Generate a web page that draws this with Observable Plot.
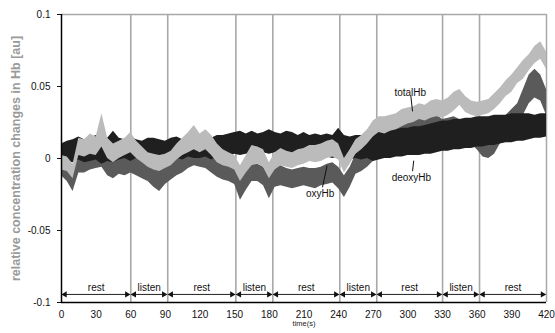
<!DOCTYPE html>
<html><head><meta charset="utf-8">
<script src="https://cdn.jsdelivr.net/npm/d3@7"></script>
<script src="https://cdn.jsdelivr.net/npm/@observablehq/plot@0.6"></script>
<style>body{margin:0;background:#fff;}</style>
</head><body><div id="chart"></div>
<script>
const times = [0,5,10,15,20,25,30,35,40,45,50,55,60,65,70,75,80,85,90,95,100,105,110,115,120,125,130,135,140,145,150,155,160,165,170,175,180,185,190,195,200,205,210,215,220,225,230,235,240,245,250,255,260,265,270,275,280,285,290,295,300,305,310,315,320,325,330,335,340,345,350,355,360,365,370,375,380,385,390,395,400,405,410,415,420];

const deoxyLo = [-0.001,-0.002,-0.003,-0.001,-0.003,-0.002,-0.001,-0.004,-0.002,-0.003,-0.001,0.000,-0.002,0.000,-0.001,-0.002,0.000,-0.001,0.000,-0.002,0.000,-0.001,0.001,0.000,0.000,0.001,-0.001,0.001,0.002,0.001,0.003,0.002,0.003,0.004,0.002,0.004,0.003,0.004,0.002,0.004,0.003,0.002,0.002,0.000,0.002,0.000,0.001,0.000,0.001,-0.002,-0.001,0.000,-0.001,0.000,-0.002,-0.001,0.000,0.000,0.001,0.001,0.002,0.002,0.002,0.003,0.003,0.004,0.005,0.005,0.006,0.006,0.007,0.007,0.008,0.008,0.009,0.009,0.010,0.011,0.011,0.012,0.012,0.013,0.014,0.014,0.015];
const deoxyHi = [0.010,0.012,0.013,0.015,0.013,0.014,0.016,0.013,0.014,0.019,0.014,0.013,0.015,0.013,0.012,0.014,0.014,0.013,0.012,0.014,0.015,0.013,0.014,0.016,0.014,0.015,0.014,0.016,0.016,0.017,0.018,0.019,0.017,0.019,0.017,0.018,0.020,0.018,0.017,0.019,0.018,0.016,0.018,0.016,0.017,0.016,0.017,0.016,0.021,0.016,0.015,0.016,0.016,0.017,0.019,0.019,0.019,0.020,0.020,0.021,0.021,0.022,0.022,0.023,0.024,0.025,0.026,0.026,0.027,0.027,0.028,0.028,0.029,0.029,0.029,0.030,0.030,0.030,0.031,0.031,0.031,0.031,0.030,0.031,0.031];

const totalLo = [-0.008,-0.009,-0.014,0.002,0.001,0.003,0.002,0.008,0.000,-0.003,0.000,0.002,0.004,0.000,-0.003,-0.006,-0.008,-0.009,-0.007,-0.005,-0.001,0.002,0.004,0.006,0.004,0.006,0.002,-0.003,-0.005,-0.006,-0.008,-0.016,-0.010,-0.005,-0.004,-0.006,-0.014,-0.008,-0.005,-0.006,-0.007,-0.005,-0.004,-0.002,-0.003,-0.002,0.000,0.001,-0.001,-0.010,-0.004,0.003,0.006,0.010,0.015,0.018,0.017,0.019,0.020,0.022,0.024,0.025,0.027,0.026,0.028,0.029,0.028,0.030,0.033,0.037,0.032,0.030,0.029,0.030,0.031,0.034,0.038,0.043,0.046,0.052,0.055,0.061,0.066,0.069,0.062];
const totalHi = [0.002,0.001,-0.004,0.014,0.013,0.017,0.015,0.031,0.014,0.010,0.012,0.014,0.018,0.012,0.008,0.004,0.003,0.002,0.003,0.005,0.010,0.014,0.018,0.023,0.017,0.020,0.016,0.010,0.006,0.004,0.002,-0.005,0.002,0.009,0.008,0.006,-0.003,0.004,0.007,0.005,0.004,0.006,0.007,0.009,0.009,0.010,0.012,0.013,0.010,0.000,0.006,0.013,0.016,0.020,0.026,0.029,0.029,0.030,0.031,0.034,0.035,0.036,0.038,0.037,0.040,0.041,0.040,0.042,0.046,0.048,0.043,0.040,0.039,0.040,0.041,0.045,0.049,0.054,0.058,0.063,0.068,0.072,0.078,0.081,0.074];

const oxyLo = [-0.012,-0.016,-0.023,-0.010,-0.010,-0.008,-0.007,-0.006,-0.012,-0.014,-0.011,-0.012,-0.010,-0.012,-0.014,-0.016,-0.020,-0.023,-0.018,-0.015,-0.012,-0.010,-0.007,-0.005,-0.006,-0.007,-0.010,-0.013,-0.015,-0.016,-0.018,-0.029,-0.022,-0.016,-0.016,-0.019,-0.028,-0.020,-0.019,-0.020,-0.021,-0.020,-0.019,-0.020,-0.021,-0.019,-0.018,-0.017,-0.021,-0.027,-0.020,-0.011,-0.009,-0.006,-0.002,0.000,0.002,0.004,0.006,0.010,0.012,0.014,0.015,0.016,0.016,0.014,0.010,0.012,0.013,0.012,0.011,0.010,0.006,0.001,0.000,0.003,0.010,0.015,0.018,0.022,0.030,0.038,0.042,0.040,0.030];
const oxyHi = [-0.002,-0.005,-0.010,0.003,0.003,0.005,0.008,0.010,0.001,-0.001,0.002,0.002,0.004,0.001,-0.002,-0.004,-0.007,-0.007,-0.006,-0.003,0.000,0.002,0.007,0.009,0.007,0.006,0.002,-0.001,-0.002,-0.003,-0.006,-0.013,-0.008,-0.004,-0.004,-0.006,-0.013,-0.006,-0.005,-0.007,-0.008,-0.007,-0.006,-0.007,-0.007,-0.006,-0.004,-0.003,-0.006,-0.012,-0.006,0.003,0.004,0.007,0.012,0.015,0.018,0.020,0.022,0.026,0.028,0.030,0.031,0.031,0.032,0.030,0.027,0.028,0.029,0.027,0.026,0.025,0.020,0.016,0.015,0.018,0.025,0.030,0.034,0.038,0.048,0.058,0.062,0.058,0.048];

const events = [60, 92, 151, 183, 241, 273, 330, 362];
const phases = ["rest","listen","rest","listen","rest","listen","rest","listen","rest"];
const xTicks = [0,30,60,90,120,150,180,210,240,270,300,330,360,390,420];
const yTicks = [-0.1,-0.05,0,0.05,0.1];
const seriesNames = ["totalHb","oxyHb","deoxyHb"];
const seriesColors = ["#bbbbbb","#5a5a5a","#1f1f1f"];

const rows = times.map((t,i)=>({t, oLo:oxyLo[i], oHi:oxyHi[i], dLo:deoxyLo[i], dHi:deoxyHi[i], tLo:totalLo[i], tHi:totalHi[i]}));
const bounds = [0, ...events, 420];
const arrowY = -0.0944;
const segs = phases.map((p,i)=>({label:p, a:bounds[i]+0.8, b:bounds[i+1]-1.2, mid:(bounds[i]+bounds[i+1])/2}));

const notes = [
  {name:"totalHb", tx:302, ty:0.0459, x1:302.5, y1:0.0435, x2:304, y2:0.0327},
  {name:"oxyHb", tx:224, ty:-0.0243, x1:226, y1:-0.0200, x2:230, y2:-0.0049},
  {name:"deoxyHb", tx:303, ty:-0.0135, x1:304, y1:-0.0088, x2:305, y2:-0.0015}
];

const chart = Plot.plot({
  width: 555, height: 333,
  marginLeft: 61, marginRight: 9, marginTop: 14, marginBottom: 31,
  style: {fontFamily: "'Liberation Sans', Arial, sans-serif", fontSize: "10px", background: "#fff", color: "#111"},
  x: {domain: [0, 420]},
  y: {domain: [-0.1, 0.1]},
  marks: [
    Plot.ruleX(events, {stroke: "#a8a8a8", strokeWidth: 1.6}),
    Plot.ruleY([0.1], {stroke: "#a8a8a8", strokeWidth: 1.5}),
    Plot.ruleX([420], {stroke: "#a8a8a8", strokeWidth: 1.5}),
    Plot.areaY(rows, {x: "t", y1: "oLo", y2: "oHi", fill: seriesColors[1]}),
    Plot.areaY(rows, {x: "t", y1: "dLo", y2: "dHi", fill: seriesColors[2]}),
    Plot.areaY(rows, {x: "t", y1: "tLo", y2: "tHi", fill: seriesColors[0]}),
    Plot.ruleX([0], {stroke: "#000", strokeWidth: 1.5}),
    Plot.ruleY([-0.1], {stroke: "#000", strokeWidth: 1.5}),
    Plot.link(segs, {x1: "a", x2: "b", y1: () => arrowY, y2: () => arrowY, stroke: "#222", strokeWidth: 1}),
    Plot.dot(segs, {x: "a", y: () => arrowY, symbol: "triangle", r: 2.3, rotate: -90, fill: "#111", stroke: "none", dx: 2.5}),
    Plot.dot(segs, {x: "b", y: () => arrowY, symbol: "triangle", r: 2.3, rotate: 90, fill: "#111", stroke: "none", dx: -2.5}),
    Plot.text(segs, {x: "mid", y: () => arrowY, text: "label", dy: -6.5, fontSize: 10, fill: "#111"}),
    Plot.link(notes, {x1: "x1", y1: "y1", x2: "x2", y2: "y2", stroke: "#111", strokeWidth: 1}),
    Plot.text(notes, {x: "tx", y: "ty", text: "name", fontSize: 10, fill: "#111"}),
    Plot.axisY({ticks: yTicks, tickFormat: d => String(d), tickSize: 4, tickPadding: 7, label: null, fontSize: 10}),
    Plot.axisX({ticks: xTicks, tickSize: 0, tickPadding: 8, label: null, fontSize: 10}),
    Plot.text(["relative concentration changes in Hb [au]"], {frameAnchor: "left", textAnchor: "middle", dx: -46, rotate: -90, fontSize: 12.5, fontWeight: "bold", fill: "#9a9a9a", ariaLabel: "ylabel"}),
    Plot.text(["time(s)"], {frameAnchor: "bottom", dy: 23, fontSize: 7.5, fill: "#222"})
  ]
});
d3.select(chart).selectAll('g[aria-label="ylabel"] text').style("filter", "blur(0.8px)");
document.getElementById("chart").appendChild(chart);
</script>
</body></html>
